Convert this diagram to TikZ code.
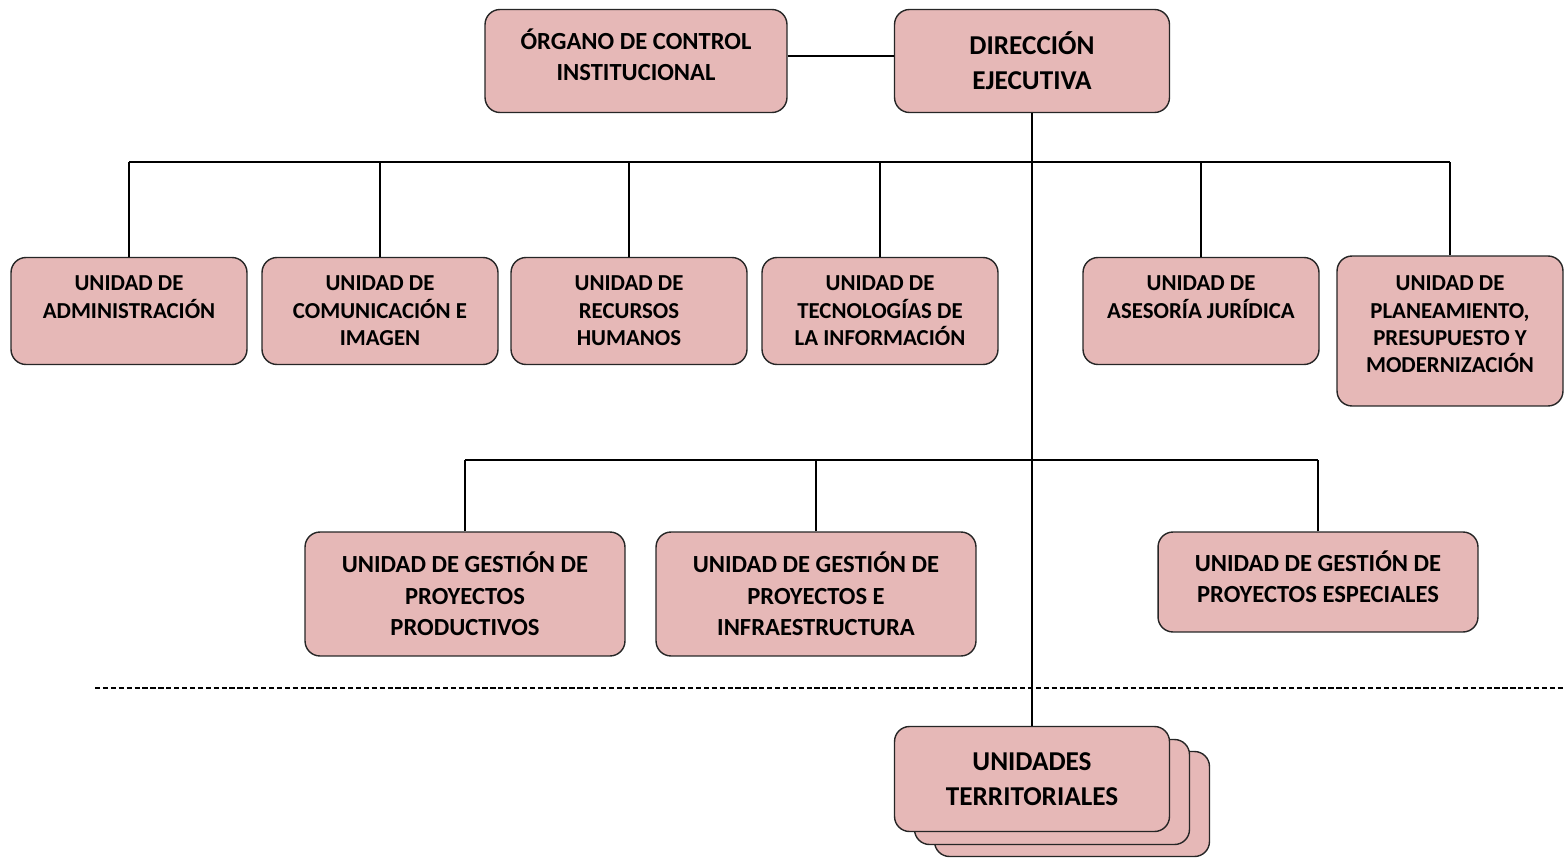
\documentclass[tikz,border=0pt]{standalone}
\usepackage{fontspec}
\setmainfont{Carlito}
\usetikzlibrary{positioning}
\definecolor{boxpink}{RGB}{230,184,183}

\begin{document}
\begin{tikzpicture}[x=0.02cm,y=-0.02cm,thick,
  unit node/.style={draw=black!85,fill=boxpink,rounded corners=0.3cm,align=center,inner sep=2pt,
    font=\bfseries\fontsize{13}{15.6}\selectfont,minimum width=4.72cm,minimum height=2.14cm},
  gest node/.style={unit node,font=\bfseries\fontsize{14}{17.9}\selectfont,minimum width=6.4cm,minimum height=2.48cm},
  head node/.style={unit node,font=\bfseries\fontsize{15.5}{19.8}\selectfont,minimum width=5.5cm,minimum height=2.06cm}]
  \useasboundingbox (0,0) rectangle (1564,858);
  % alta direccion
  \node[head node] (dir) at (1032,61) {DIRECCIÓN\\EJECUTIVA};
  \node[gest node,minimum width=6.04cm,minimum height=2.06cm] (oci) at (636,61) {ÓRGANO DE CONTROL\\INSTITUCIONAL\\[-11pt]\mbox{}};
  % unidades de apoyo y asesoria
  \node[unit node] (adm) at (129,311) {UNIDAD DE\\ADMINISTRACIÓN\\\mbox{}};
  \node[unit node] (com) at (380,311) {UNIDAD DE\\COMUNICACIÓN E\\IMAGEN};
  \node[unit node] (rrhh) at (629,311) {UNIDAD DE\\RECURSOS\\HUMANOS};
  \node[unit node] (tic) at (880,311) {UNIDAD DE\\TECNOLOGÍAS DE\\LA INFORMACIÓN};
  \node[unit node] (aj) at (1201,311) {UNIDAD DE\\ASESORÍA JURÍDICA\\\mbox{}};
  \node[unit node,minimum width=4.52cm,minimum height=3cm] (ppm) at (1450,331) {UNIDAD DE\\PLANEAMIENTO,\\PRESUPUESTO Y\\MODERNIZACIÓN\\[-8pt]\mbox{}};
  % unidades de linea
  \node[gest node] (gpp) at (465,594) {UNIDAD DE GESTIÓN DE\\PROYECTOS\\PRODUCTIVOS};
  \node[gest node] (gpi) at (816,594) {UNIDAD DE GESTIÓN DE\\PROYECTOS E\\INFRAESTRUCTURA};
  \node[gest node,minimum height=2cm] (gpe) at (1318,582) {UNIDAD DE GESTIÓN DE\\PROYECTOS ESPECIALES\\[-12pt]\mbox{}};
  % unidades desconcentradas
  \node[head node,minimum height=2.1cm] (ut3) at (1072,804) {};
  \node[head node,minimum height=2.1cm] (ut2) at (1052,792) {};
  \node[head node,minimum height=2.1cm] (ut) at (1032,779) {UNIDADES\\TERRITORIALES};
  \coordinate (bus1) at (0,162);
  \coordinate (bus2) at (0,460);
  \coordinate (dl) at (95,688);
  \coordinate (dr) at (1564,688);
  \draw ([yshift=0.1cm]oci.east) -- ([yshift=0.1cm]dir.west);
  \draw (adm.north |- bus1) -- (ppm.north |- bus1);
  \foreach \n in {adm,com,rrhh,tic,aj,ppm} {\draw (\n.north) -- (\n.north |- bus1);}
  \draw (gpp.north |- bus2) -- (gpe.north |- bus2);
  \foreach \n in {gpp,gpi,gpe} {\draw (\n.north) -- (\n.north |- bus2);}
  \draw[dash pattern=on 3pt off 1.5pt] (dl) -- (dr);
  \draw (dir.south) -- (ut.north);
\end{tikzpicture}
\end{document}
